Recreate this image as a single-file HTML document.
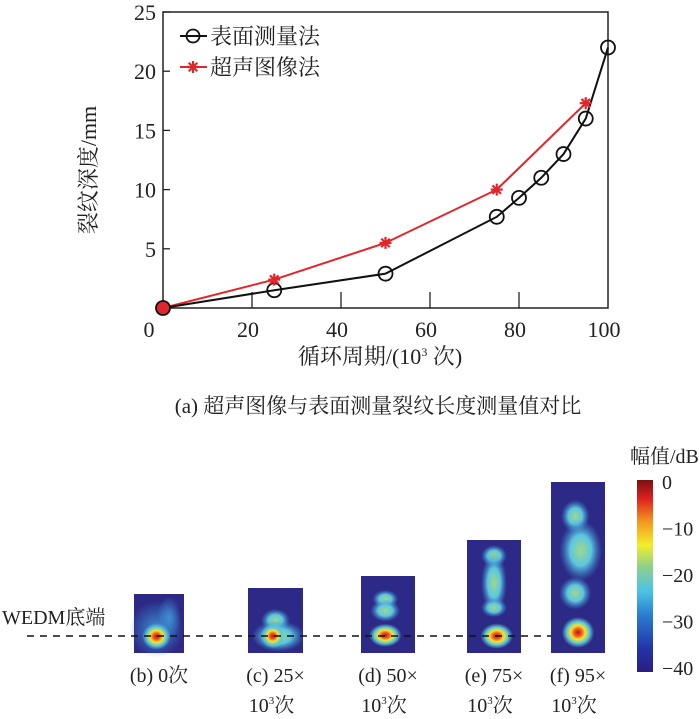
<!DOCTYPE html>
<html><head><meta charset="utf-8">
<style>
html,body{margin:0;padding:0;background:#fff;width:700px;height:719px;overflow:hidden}
svg text{font-family:"Liberation Serif","Noto Serif CJK SC",serif;fill:#222}
</style></head>
<body>
<svg id="fig" width="700" height="719" viewBox="0 0 700 719" xmlns="http://www.w3.org/2000/svg">
<defs>
<linearGradient id="jet" x1="0" y1="1" x2="0" y2="0">
<stop offset="0" stop-color="#2a1f7e"/><stop offset="0.12" stop-color="#2233a8"/>
<stop offset="0.3" stop-color="#2a7fd0"/><stop offset="0.42" stop-color="#4cc3e6"/>
<stop offset="0.55" stop-color="#8fd08a"/><stop offset="0.66" stop-color="#f3ee2a"/>
<stop offset="0.78" stop-color="#f39a20"/><stop offset="0.9" stop-color="#e0221f"/>
<stop offset="1" stop-color="#7a1010"/></linearGradient>
<radialGradient id="hot"><stop offset="0" stop-color="#c0101a"/><stop offset="0.25" stop-color="#f06020"/><stop offset="0.45" stop-color="#f5e52a"/><stop offset="0.7" stop-color="#5cc8d8"/><stop offset="1" stop-color="#5cc8d8" stop-opacity="0"/></radialGradient>
<radialGradient id="cyan"><stop offset="0" stop-color="#9fd88a"/><stop offset="0.5" stop-color="#5cc6e0"/><stop offset="1" stop-color="#3a8ad0" stop-opacity="0"/></radialGradient>
<radialGradient id="faint"><stop offset="0" stop-color="#3d8fd6"/><stop offset="1" stop-color="#3d8fd6" stop-opacity="0"/></radialGradient>
</defs>
<g id="chart"></g>
<g id="maps"></g>
</svg>
<script>
const ns='http://www.w3.org/2000/svg';
const xTicks=[0,20,40,60,80,100];
const yTicks=[5,10,15,20,25];
const surfX=[0,25,50,75,80,85,90,95,100];
const surfY=[0,1.5,2.9,7.7,9.3,11,13,16,22];
const ultraX=[0,25,50,75,95];
const ultraY=[0,2.4,5.5,10,17.3];
const X0=163,X1=608,Y0=308,Y1=12;
function sx(v){return X0+(X1-X0)*v/100;}
function sy(v){return Y0-(Y0-Y1)*v/25;}
function mk(tag,attrs,parent){const e=document.createElementNS(ns,tag);for(const k in attrs)e.setAttribute(k,attrs[k]);parent.appendChild(e);return e;}
const chart=document.getElementById('chart');
let frame=mk('rect',{x:X0,y:Y1,width:X1-X0,height:Y0-Y1,fill:'none',stroke:'#222','stroke-width':1.5},chart);


xTicks.forEach(v=>{
  if(v>0&&v<100){let t=mk('line',{x1:sx(v),x2:sx(v),y1:Y0,y2:Y0-16,stroke:'#222','stroke-width':1.3},chart);
  
  }
  let l=mk('text',{x:v===0?149:sx(v)-4,y:337,'font-size':22,'text-anchor':'middle'},chart);l.textContent=v;
  
  
});
yTicks.forEach(v=>{
  let t=mk('line',{x1:X0,x2:X0+7,y1:sy(v),y2:sy(v),stroke:'#222','stroke-width':1.3},chart);
  
  
  let l=mk('text',{x:156,y:sy(v)+8,'font-size':22,'text-anchor':'end'},chart);l.textContent=v;
  
  
});
function pts(xs,ys){return xs.map((x,i)=>sx(x)+','+sy(ys[i])).join(' ');}
let lr=mk('polyline',{points:pts(ultraX,ultraY),fill:'none',stroke:'#e0262c','stroke-width':2},chart);


let lb=mk('polyline',{points:pts(surfX,surfY),fill:'none',stroke:'#111','stroke-width':2},chart);


function star(cx,cy,g,name){
  const s=mk('g',{},g);
  
  
  for(let a=0;a<4;a++){const r=a*Math.PI/4;mk('line',{x1:cx-6*Math.cos(r),y1:cy-6*Math.sin(r),x2:cx+6*Math.cos(r),y2:cy+6*Math.sin(r),stroke:'#e0262c','stroke-width':2.2},s);}
}
surfX.forEach((x,i)=>{let c=mk('circle',{cx:sx(x),cy:sy(surfY[i]),r:7,fill:i===0?'#e0262c':'none',stroke:'#111','stroke-width':1.8},chart);
  
  });
ultraX.forEach((x,i)=>{if(i>0)star(sx(x),sy(ultraY[i]),chart,'ultrasound-point');});
let lg=mk('g',{},chart);


mk('line',{x1:180,x2:207,y1:36,y2:36,stroke:'#111','stroke-width':2},lg);
mk('circle',{cx:193,cy:36,r:6.5,fill:'none',stroke:'#111','stroke-width':1.8},lg);
let t1=mk('text',{x:210,y:44,'font-size':22},lg);t1.textContent='表面测量法';
mk('line',{x1:180,x2:207,y1:67,y2:67,stroke:'#e0262c','stroke-width':2},lg);
star(193,67,lg,'legend-star');
let t2=mk('text',{x:210,y:75,'font-size':22},lg);t2.textContent='超声图像法';
let yt=mk('text',{x:0,y:0,'font-size':22,'text-anchor':'middle',transform:'translate(96,170) rotate(-90)'},chart);yt.textContent='裂纹深度/mm';


let xt=mk('text',{x:380,y:364,'font-size':22,'text-anchor':'middle'},chart);xt.innerHTML='循环周期/(10<tspan font-size="12" dy="-8">3</tspan><tspan dy="8"> 次)</tspan>';


let cap=mk('text',{x:378,y:413,'font-size':21,'text-anchor':'middle'},chart);cap.textContent='(a) 超声图像与表面测量裂纹长度测量值对比';



const maps=document.getElementById('maps');
const panelX=[134,248,361,467,551];
const panelW=[50,55,54,54,54];
const panelTop=[594,588,576,540,482];
const panelBlobs=[
 [[0.45,0.6,0.45,0.4,'faint'],[0.7,0.4,0.2,0.3,'faint'],[0.45,0.72,0.38,0.3,'hot']],
 [[0.5,0.5,0.22,0.15,'cyan'],[0.55,0.74,0.4,0.2,'cyan'],[0.45,0.74,0.3,0.25,'hot']],
 [[0.45,0.3,0.2,0.1,'cyan'],[0.45,0.45,0.23,0.12,'cyan'],[0.45,0.77,0.4,0.2,'hot']],
 [[0.5,0.14,0.2,0.08,'cyan'],[0.5,0.38,0.2,0.22,'cyan'],[0.5,0.6,0.2,0.07,'cyan'],[0.55,0.85,0.4,0.15,'hot']],
 [[0.45,0.2,0.22,0.08,'cyan'],[0.55,0.4,0.33,0.15,'cyan'],[0.45,0.65,0.25,0.08,'cyan'],[0.5,0.88,0.4,0.12,'hot']]
];
const labels=['(b) 0次','(c) 25×','(d) 50×','(e) 75×','(f) 95×'];
const BOT=653;
panelX.forEach((px,i)=>{
  const g=mk('g',{},maps);
  
  
  const w=panelW[i],h=BOT-panelTop[i];
  mk('rect',{x:px,y:panelTop[i],width:w,height:h,fill:'#2c2a86'},g);
  panelBlobs[i].forEach(b=>{
    const k=b[4]==='hot'?0.75:1.2;
    mk('ellipse',{cx:px+b[0]*w,cy:panelTop[i]+b[1]*h,rx:b[2]*w*k,ry:b[3]*h*k,fill:'url(#'+b[4]+')'},g);
  });
  const cx=px+w/2;
  let l1=mk('text',{x:cx,y:682,'font-size':20,'text-anchor':'middle'},g);l1.textContent=labels[i];
  if(i>0){let l2=mk('text',{x:cx-4,y:712,'font-size':20,'text-anchor':'middle'},g);l2.innerHTML='10<tspan font-size="11" dy="-8">3</tspan><tspan dy="8">次</tspan>';}
});
let dash=mk('line',{x1:27,x2:551,y1:636,y2:636,stroke:'#111','stroke-width':1.5,'stroke-dasharray':'7,6'},maps);


let wt=mk('text',{x:2,y:624,'font-size':20},maps);wt.textContent='WEDM底端';


let cb=mk('rect',{x:637,y:480,width:16,height:192,fill:'url(#jet)'},maps);


const cbTicks=['0','−10','−20','−30','−40'];
cbTicks.forEach((t,i)=>{let e=mk('text',{x:662,y:489+i*46.5,'font-size':20},maps);e.textContent=t;
  
  });
let ct=mk('text',{x:630,y:463,'font-size':20},maps);ct.textContent='幅值/dB';


</script>
</body></html>
